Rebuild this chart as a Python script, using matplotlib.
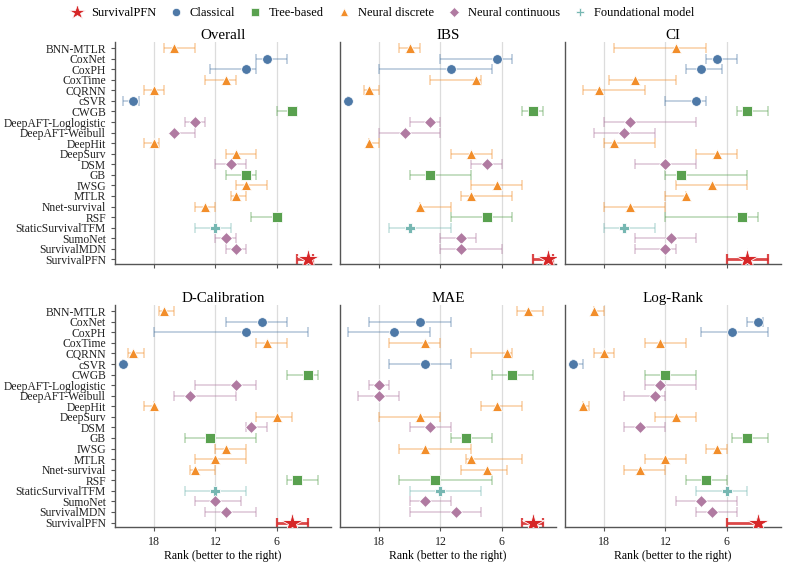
import matplotlib
matplotlib.use("Agg")
import matplotlib.pyplot as plt
from matplotlib.lines import Line2D

plt.rcParams['font.family'] = ['Liberation Serif', 'DejaVu Serif']

methods = ["BNN-MTLR", "CoxNet", "CoxPH", "CoxTime", "CQRNN", "cSVR", "CWGB",
           "DeepAFT-Loglogistic", "DeepAFT-Weibull", "DeepHit", "DeepSurv", "DSM",
           "GB", "IWSG", "MTLR", "Nnet-survival", "RSF", "StaticSurvivalTFM",
           "SumoNet", "SurvivalMDN", "SurvivalPFN"]

categories = ["Neural discrete", "Classical", "Classical", "Neural discrete", "Neural discrete",
              "Classical", "Tree-based", "Neural continuous", "Neural continuous",
              "Neural discrete", "Neural discrete", "Neural continuous", "Tree-based",
              "Neural discrete", "Neural discrete", "Neural discrete", "Tree-based",
              "Foundational model", "Neural continuous", "Neural continuous", "SurvivalPFN"]

panel_titles = ["Overall", "IBS", "CI", "D-Calibration", "MAE", "Log-Rank"]

# median rank, worse bound (higher rank), better bound (lower rank)
overall_med = [16, 7, 9, 11, 18, 20, 4.5, 14, 16, 18, 10, 10.5, 9, 9, 10, 13, 6, 12, 11, 10, 3]
overall_lo = [17, 8, 12.5, 13, 19, 21, 6, 15, 16, 19, 11, 12, 11, 10, 10.5, 14, 8.5, 14, 12, 11, 4]
overall_hi = [14, 5, 8, 10, 17, 19.5, 4, 13, 14, 17.5, 8, 9, 8, 7, 9, 12, 5.5, 10.5, 10, 9, 2.5]

ibs_med = [15, 6.5, 11, 8.5, 19, 21, 3, 13, 15.5, 19, 9, 7.5, 13, 6.5, 9, 14, 7.5, 15, 10, 10, 1.5]
ibs_lo = [16, 12, 18, 13, 19.5, 21, 4, 15, 18, 19, 11, 9, 15, 9, 10, 14, 11, 17, 12, 12, 3]
ibs_hi = [14, 5, 7, 8, 18, 21, 2, 12, 12, 18, 7, 6, 9, 4, 5, 11, 5, 11, 8.5, 6, 1]

ci_med = [11, 7, 8.5, 15, 18.5, 9, 4, 15.5, 16, 17, 7, 12, 10.5, 7.5, 10, 15.5, 4.5, 16, 11.5, 12, 4]
ci_lo = [17, 8, 10, 17.5, 20, 12, 5, 18, 19, 18, 9, 15, 12, 11, 12, 18, 12, 18, 15, 15, 6]
ci_hi = [8, 5, 6.5, 11, 14, 8, 2, 9, 13, 13, 5, 9, 4, 4, 10, 12, 3, 13, 9, 11, 2]

dcal_med = [17, 7.5, 9, 7, 20, 21, 3, 10, 14.5, 18, 6, 8.5, 12.5, 11, 12, 14, 4, 12, 12, 11, 4.5]
dcal_lo = [17.5, 11, 18, 8, 20.5, 21, 5, 14, 16, 19, 8, 9, 15, 12, 14, 14.5, 5, 15, 14, 13, 6]
dcal_hi = [16, 5, 3, 5, 19, 21, 2, 8, 10, 18, 4.5, 7, 8, 9, 9, 12, 2, 9, 9.5, 8, 3]

mae_med = [3.5, 14, 16.5, 13.5, 5.5, 13.5, 5, 18, 18, 6.5, 14, 13, 9.5, 13.5, 9, 7.5, 12.5, 12, 13.5, 10.5, 3]
mae_lo = [4.5, 19, 21, 17, 9, 17, 7, 19, 20, 8, 18, 15, 11, 16, 9.5, 10, 16, 15, 15, 15, 4]
mae_hi = [2, 11, 13, 12, 5, 11, 3, 17, 16, 4, 12, 11, 7, 9, 4, 5.5, 7, 8, 11, 8, 2]

lr_med = [19, 3, 5.5, 12.5, 18, 21, 12, 12.5, 13, 20, 11, 14.5, 4, 7, 12, 14.5, 8, 6, 8.5, 7.5, 3]
lr_lo = [19, 4, 8.5, 14, 19, 21, 14, 14, 16, 20, 13, 16, 5.5, 8, 14, 16, 10, 9, 11, 9, 6]
lr_hi = [18, 2.5, 2, 10, 17, 20, 9, 9, 12, 19.5, 9, 12, 2, 6, 10, 12, 6, 4, 5, 5, 3]

panels = [(overall_med, overall_lo, overall_hi), (ibs_med, ibs_lo, ibs_hi),
          (ci_med, ci_lo, ci_hi), (dcal_med, dcal_lo, dcal_hi),
          (mae_med, mae_lo, mae_hi), (lr_med, lr_lo, lr_hi)]

legend_order = ["SurvivalPFN", "Classical", "Tree-based", "Neural discrete",
                "Neural continuous", "Foundational model"]
style = {
    "SurvivalPFN": dict(color="#d62728", marker="*", ms=16),
    "Classical": dict(color="#4e79a7", marker="o", ms=7),
    "Tree-based": dict(color="#59a14f", marker="s", ms=7),
    "Neural discrete": dict(color="#f28e2b", marker="^", ms=6.5),
    "Neural continuous": dict(color="#b07aa1", marker="D", ms=6.3),
    "Foundational model": dict(color="#76b7b2", marker="P", ms=6.5),
}

fig = plt.figure(figsize=(7.87, 5.66), dpi=100)
gs = fig.add_gridspec(2, 3, left=0.1461, right=0.992, top=0.9263, bottom=0.0684,
                      wspace=0.043, hspace=0.183)

spine_c = "#555555"
ypos = list(range(len(methods)))
for k, (med, lo, hi) in enumerate(panels):
    r, c = divmod(k, 3)
    ax = fig.add_subplot(gs[r, c])
    for xv in [18, 12, 6]:
        ax.axvline(xv, color="#dcdcdc", lw=0.9, zorder=0)
    for i, m in enumerate(methods):
        st = style[categories[i]]
        is_pfn = categories[i] == "SurvivalPFN"
        ax.errorbar([med[i]], [i], xerr=[[med[i] - hi[i]], [lo[i] - med[i]]],
                    fmt="none", ecolor=st["color"],
                    alpha=0.85 if is_pfn else 0.4,
                    elinewidth=2.0 if is_pfn else 1.2,
                    capsize=3.5, capthick=1.6 if is_pfn else 1.2, zorder=2)
        ax.plot([med[i]], [i], linestyle="none", marker=st["marker"],
                color=st["color"], ms=st["ms"], mec="white", mew=0.6, zorder=3)
    ax.set_xlim(21.8, 0.75)
    ax.set_ylim(20.45, -0.6)
    ax.set_xticks([18, 12, 6])
    ax.set_title(panel_titles[k], fontsize=10.8, pad=2)
    for s in ["top", "right"]:
        ax.spines[s].set_visible(False)
    for s in ["left", "bottom"]:
        ax.spines[s].set_color(spine_c)
        ax.spines[s].set_linewidth(1.0)
    ax.tick_params(colors="#222222", labelsize=8.6, length=3, width=0.8)
    ax.tick_params(axis="both", color=spine_c)
    if c == 0:
        ax.set_yticks(ypos)
        ax.set_yticklabels(methods, fontsize=8.4)
    else:
        ax.set_yticks([])
    if r == 0:
        ax.set_xticklabels([])
    else:
        ax.set_xlabel("Rank (better to the right)", fontsize=8.5, labelpad=1)

handles = []
for cat in legend_order:
    st = style[cat]
    handles.append(Line2D([], [], linestyle="none", marker=st["marker"], color=st["color"],
                          ms=st["ms"] * (0.72 if cat == "SurvivalPFN" else 0.85),
                          mec="white", mew=0.5, label=cat))
fig.legend(handles=handles, loc="center", bbox_to_anchor=(0.486, 0.977), ncol=6,
           frameon=False, fontsize=9, handlelength=1.0, handletextpad=0.6,
           columnspacing=1.1, borderaxespad=0)

fig.savefig("out.png", dpi=100)
